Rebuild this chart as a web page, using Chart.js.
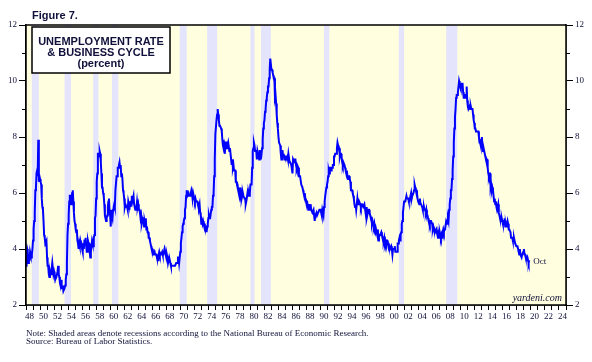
<!DOCTYPE html>
<html>
<head>
<meta charset="utf-8">
<script src="https://cdn.jsdelivr.net/npm/chart.js@4/dist/chart.umd.min.js"></script>
<style>
  body { margin: 0; background: #fff; }
  canvas { display: block; }
</style>
</head>
<body>
<canvas id="chart" width="592" height="362"></canvas>
<script>
/* Unemployment rate, monthly, Jan 1948 - Oct 2019 (percent) */
var startYear = 1948;
var unrate = [
  3.4,3.8,4.0,3.9,3.5,3.6,3.6,3.9,3.8,3.7,3.8,4.0,
  4.3,4.7,5.0,5.3,6.1,6.2,6.7,6.8,6.6,7.9,6.4,6.6,
  6.5,6.4,6.3,5.8,5.5,5.4,5.0,4.5,4.4,4.2,4.2,4.3,
  3.7,3.4,3.4,3.1,3.0,3.2,3.1,3.1,3.3,3.5,3.5,3.1,
  3.2,3.1,2.9,2.9,3.0,3.0,3.2,3.4,3.1,3.0,2.8,2.7,
  2.9,2.6,2.6,2.7,2.5,2.5,2.6,2.7,2.9,3.1,3.5,4.5,
  4.9,5.2,5.7,5.9,5.9,5.6,5.8,6.0,6.1,5.7,5.3,5.0,
  4.9,4.7,4.6,4.7,4.3,4.2,4.0,4.2,4.1,4.3,4.2,4.2,
  4.0,3.9,4.2,4.0,4.3,4.3,4.4,4.1,3.9,3.9,4.3,4.2,
  4.2,3.9,3.7,3.9,4.1,4.3,4.2,4.1,4.4,4.5,5.1,5.2,
  5.8,6.4,6.7,7.4,7.4,7.3,7.5,7.4,7.1,6.7,6.2,6.2,
  6.0,5.9,5.6,5.2,5.1,5.0,5.1,5.2,5.5,5.7,5.8,5.3,
  5.2,4.8,5.4,5.2,5.1,5.4,5.5,5.6,5.5,6.1,6.1,6.6,
  6.6,6.9,6.9,7.0,7.1,6.9,7.0,6.6,6.7,6.5,6.1,6.0,
  5.8,5.5,5.6,5.6,5.5,5.5,5.4,5.7,5.6,5.4,5.7,5.5,
  5.7,5.9,5.7,5.7,5.9,5.6,5.6,5.4,5.5,5.5,5.7,5.5,
  5.6,5.4,5.4,5.3,5.1,5.2,4.9,5.0,5.1,5.1,4.8,5.0,
  4.9,5.1,4.7,4.8,4.6,4.6,4.4,4.4,4.3,4.2,4.1,4.0,
  4.0,3.8,3.8,3.8,3.9,3.8,3.8,3.8,3.7,3.7,3.6,3.8,
  3.9,3.8,3.8,3.8,3.8,3.9,3.8,3.8,3.8,4.0,3.9,3.8,
  3.7,3.8,3.7,3.5,3.5,3.7,3.7,3.5,3.4,3.4,3.4,3.4,
  3.4,3.4,3.4,3.4,3.4,3.5,3.5,3.5,3.7,3.7,3.5,3.5,
  3.9,4.2,4.4,4.6,4.8,4.9,5.0,5.1,5.4,5.5,5.9,6.1,
  5.9,5.9,6.0,5.9,5.9,5.9,6.0,6.1,6.0,5.8,6.0,6.0,
  5.8,5.7,5.8,5.7,5.7,5.7,5.6,5.6,5.5,5.6,5.3,5.2,
  4.9,5.0,4.9,5.0,4.9,4.9,4.8,4.8,4.8,4.6,4.8,4.9,
  5.1,5.2,5.1,5.1,5.1,5.4,5.5,5.5,5.9,6.0,6.6,7.2,
  8.1,8.1,8.6,8.8,9.0,8.8,8.6,8.4,8.4,8.4,8.3,8.2,
  7.9,7.7,7.6,7.7,7.4,7.6,7.8,7.8,7.6,7.7,7.8,7.8,
  7.5,7.6,7.4,7.2,7.0,7.2,6.9,7.0,6.8,6.8,6.8,6.4,
  6.4,6.3,6.3,6.1,6.0,5.9,6.2,5.9,6.0,5.8,5.9,6.0,
  5.9,5.9,5.8,5.8,5.6,5.7,5.7,6.0,5.9,6.0,5.9,6.0,
  6.3,6.3,6.3,6.9,7.5,7.6,7.8,7.7,7.5,7.5,7.5,7.2,
  7.5,7.4,7.4,7.2,7.5,7.5,7.2,7.4,7.6,7.9,8.3,8.5,
  8.6,8.9,9.0,9.3,9.4,9.6,9.8,9.8,10.1,10.4,10.8,10.8,
  10.4,10.4,10.3,10.2,10.1,10.1,9.4,9.5,9.2,8.8,8.5,8.3,
  8.0,7.8,7.8,7.7,7.4,7.2,7.5,7.5,7.3,7.4,7.2,7.3,
  7.3,7.2,7.2,7.3,7.2,7.4,7.4,7.1,7.1,7.1,7.0,7.0,
  6.7,7.2,7.2,7.1,7.2,7.2,7.0,6.9,7.0,7.0,6.9,6.6,
  6.6,6.6,6.6,6.3,6.3,6.2,6.1,6.0,5.9,6.0,5.8,5.7,
  5.7,5.7,5.7,5.4,5.6,5.4,5.4,5.6,5.4,5.4,5.3,5.3,
  5.4,5.2,5.0,5.2,5.2,5.3,5.2,5.2,5.3,5.3,5.4,5.4,
  5.4,5.3,5.2,5.4,5.4,5.2,5.5,5.7,5.9,5.9,6.2,6.3,
  6.4,6.6,6.8,6.7,6.9,6.9,6.8,6.9,6.9,7.0,7.0,7.3,
  7.3,7.4,7.4,7.4,7.6,7.8,7.7,7.6,7.6,7.3,7.4,7.4,
  7.3,7.1,7.0,7.1,7.1,7.0,6.9,6.8,6.7,6.8,6.6,6.5,
  6.6,6.6,6.5,6.4,6.1,6.1,6.1,6.0,5.9,5.8,5.6,5.5,
  5.6,5.4,5.4,5.8,5.6,5.6,5.7,5.7,5.6,5.5,5.6,5.6,
  5.6,5.5,5.5,5.6,5.6,5.3,5.5,5.1,5.2,5.2,5.4,5.4,
  5.3,5.2,5.2,5.1,4.9,5.0,4.9,4.8,4.9,4.7,4.6,4.7,
  4.6,4.6,4.7,4.3,4.4,4.5,4.5,4.5,4.6,4.5,4.4,4.4,
  4.3,4.4,4.2,4.3,4.2,4.3,4.3,4.2,4.2,4.1,4.1,4.0,
  4.0,4.1,4.0,3.8,4.0,4.0,4.0,4.1,3.9,3.9,3.9,3.9,
  4.2,4.2,4.3,4.4,4.3,4.5,4.6,4.9,5.0,5.3,5.5,5.7,
  5.7,5.7,5.7,5.9,5.8,5.8,5.8,5.7,5.7,5.7,5.9,6.0,
  5.8,5.9,5.9,6.0,6.1,6.3,6.2,6.1,6.1,6.0,5.8,5.7,
  5.7,5.6,5.8,5.6,5.6,5.6,5.5,5.4,5.4,5.5,5.4,5.4,
  5.3,5.4,5.2,5.2,5.1,5.0,5.0,4.9,5.0,5.0,5.0,4.9,
  4.7,4.8,4.7,4.7,4.6,4.6,4.7,4.7,4.5,4.4,4.5,4.4,
  4.6,4.5,4.4,4.5,4.4,4.6,4.7,4.6,4.7,4.7,4.7,5.0,
  5.0,4.9,5.1,5.0,5.4,5.6,5.8,6.1,6.1,6.5,6.8,7.3,
  7.8,8.3,8.7,9.0,9.4,9.5,9.5,9.6,9.8,10.0,9.9,9.9,
  9.8,9.8,9.9,9.9,9.6,9.4,9.4,9.5,9.5,9.4,9.8,9.3,
  9.1,9.0,9.0,9.1,9.0,9.1,9.0,9.0,9.0,8.8,8.6,8.5,
  8.3,8.3,8.2,8.2,8.2,8.2,8.2,8.0,7.8,7.8,7.7,7.9,
  8.0,7.7,7.5,7.6,7.5,7.5,7.3,7.2,7.2,7.2,6.9,6.7,
  6.6,6.7,6.7,6.2,6.3,6.1,6.2,6.1,5.9,5.7,5.8,5.6,
  5.7,5.5,5.4,5.4,5.6,5.3,5.2,5.1,5.0,5.0,5.1,5.0,
  4.9,4.9,5.0,5.1,4.8,4.9,4.8,4.9,5.0,4.9,4.7,4.7,
  4.7,4.6,4.4,4.4,4.4,4.3,4.3,4.4,4.3,4.2,4.2,4.1,
  4.1,4.1,4.0,4.0,3.8,4.0,3.8,3.8,3.7,3.8,3.8,3.9,
  4.0,3.8,3.8,3.7,3.6,3.6,3.7,3.6,3.5,3.6
];

/* NBER recessions, peak month to trough month */
var recStart = ['1948-11','1953-07','1957-08','1960-04','1969-12','1973-11','1980-01','1981-07','1990-07','2001-03','2007-12'];
var recEnd   = ['1949-10','1954-05','1958-04','1961-02','1970-11','1975-03','1980-07','1982-11','1991-03','2001-11','2009-06'];

var xMin = 1948, xMax = 2025;
var yMin = 2, yMax = 12;
var titleLines = ['UNEMPLOYMENT RATE', '& BUSINESS CYCLE', '(percent)'];
var lastLabel = 'Oct';

var ink = '#10103a';

function ym(s, endOfMonth){
    var p = s.split('-');
    return +p[0] + (+p[1] - (endOfMonth ? 0 : 1)) / 12;
}

var points = unrate.map(function(v, i){
    return { x: startYear + i / 12, y: v };
});

/* background, recession shading, frame and texts */
var decor = {
    id: 'decor',
    beforeDatasetsDraw: function(chart){
        var ctx = chart.ctx, a = chart.chartArea, xs = chart.scales.x;
        ctx.save();
        ctx.fillStyle = '#ffffe0';
        ctx.fillRect(a.left, a.top, a.right - a.left, a.bottom - a.top);
        ctx.fillStyle = '#e4e4fc';
        for (var i = 0; i < recStart.length; i++){
            var x0 = xs.getPixelForValue(ym(recStart[i], false));
            var x1 = xs.getPixelForValue(ym(recEnd[i], true));
            ctx.fillRect(x0, a.top, x1 - x0, a.bottom - a.top);
        }
        ctx.restore();
    },
    afterDraw: function(chart){
        var ctx = chart.ctx, a = chart.chartArea;
        var xs = chart.scales.x, ys = chart.scales.y;
        ctx.save();

        // frame
        ctx.strokeStyle = '#000';
        ctx.lineWidth = 1.5;
        ctx.strokeRect(a.left, a.top, a.right - a.left, a.bottom - a.top);

        // minor ticks on odd values, both sides
        ctx.lineWidth = 1;
        ctx.beginPath();
        for (var v = yMin + 1; v < yMax; v += 2){
            var py = Math.round(ys.getPixelForValue(v)) + 0.5;
            ctx.moveTo(a.left - 4, py); ctx.lineTo(a.left, py);
            ctx.moveTo(a.right, py); ctx.lineTo(a.right + 4, py);
        }
        ctx.stroke();

        // title box
        ctx.fillStyle = '#fff';
        ctx.fillRect(32, 27, 138, 46);
        ctx.lineWidth = 1.5;
        ctx.strokeRect(32, 27, 138, 46);
        ctx.fillStyle = ink;
        ctx.textAlign = 'center';
        ctx.textBaseline = 'alphabetic';
        ctx.font = 'bold 11px "Liberation Sans", Arial, sans-serif';
        ctx.fillText(titleLines[0], 101, 45);
        ctx.fillText(titleLines[1], 101, 56);
        ctx.fillText(titleLines[2], 101, 67);

        // figure label
        ctx.textAlign = 'left';
        ctx.font = 'bold 11px "Liberation Sans", Arial, sans-serif';
        ctx.fillText('Figure 7.', 32, 19);

        // last point label
        var last = points[points.length - 1];
        ctx.font = '9px "Liberation Serif", "Times New Roman", serif';
        ctx.textBaseline = 'middle';
        ctx.fillText(lastLabel, xs.getPixelForValue(last.x) + 4, ys.getPixelForValue(last.y) + 1);

        // source tag
        ctx.textAlign = 'right';
        ctx.font = 'italic 10px "Liberation Serif", "Times New Roman", serif';
        ctx.fillText('yardeni.com', a.right - 4, a.bottom - 7);

        // notes
        ctx.textAlign = 'left';
        ctx.textBaseline = 'alphabetic';
        ctx.font = '9px "Liberation Serif", "Times New Roman", serif';
        ctx.fillText('Note: Shaded areas denote recessions according to the National Bureau of Economic Research.', 26, 336);
        ctx.fillText('Source: Bureau of Labor Statistics.', 26, 344);
        ctx.restore();
    }
};

var tickFont = { family: '"Liberation Serif", "Times New Roman", serif', size: 9 };

function yAxis(pos){
    return {
        type: 'linear',
        position: pos,
        min: yMin,
        max: yMax,
        afterFit: function(s){ s.width = 26; },
        grid: { drawOnChartArea: false, tickLength: 7, color: '#000', tickColor: '#000' },
        border: { color: '#000', width: 1.5 },
        ticks: { stepSize: 2, padding: 2, color: ink, font: tickFont }
    };
}

new Chart(document.getElementById('chart'), {
    type: 'line',
    data: {
        datasets: [{
            data: points,
            borderColor: '#0000ff',
            borderWidth: 2,
            pointRadius: 0,
            tension: 0,
            fill: false,
            yAxisID: 'y'
        }]
    },
    options: {
        responsive: false,
        animation: false,
        layout: { padding: { top: 25, left: 0, right: 0, bottom: 0 } },
        plugins: { legend: { display: false }, tooltip: { enabled: false } },
        scales: {
            x: {
                type: 'linear',
                min: xMin,
                max: xMax,
                afterFit: function(s){ s.height = 57; },
                grid: { drawOnChartArea: false, tickLength: 5, color: '#000', tickColor: '#000' },
                border: { color: '#000', width: 1.5 },
                ticks: {
                    stepSize: 1,
                    autoSkip: false,
                    maxRotation: 0,
                    minRotation: 0,
                    padding: 1,
                    labelOffset: 3.5,
                    color: ink,
                    font: tickFont,
                    callback: function(v){
                        if (v % 2 !== 0 || v >= xMax) return '';
                        return String(v % 100).padStart(2, '0');
                    }
                }
            },
            y: yAxis('left'),
            y2: yAxis('right')
        }
    },
    plugins: [decor]
});
</script>
</body>
</html>
